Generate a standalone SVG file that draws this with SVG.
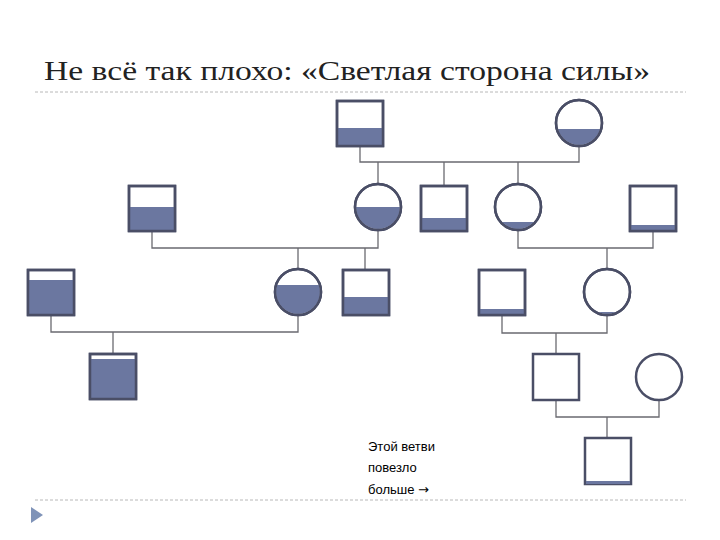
<svg xmlns="http://www.w3.org/2000/svg" width="720" height="540" viewBox="0 0 720 540">
<defs><style>
.n{fill:#fff;stroke:#4a4e66;stroke-width:2.5}
.f{fill:#6b77a0}
.c line,.c polyline{stroke:#6a6a70;stroke-width:1.3;fill:none}
.dash{stroke:#b8b8b8;stroke-width:1;stroke-dasharray:3 2}
.t{font-family:"Liberation Sans",sans-serif;font-size:13px;fill:#000}
</style>
<clipPath id="cB"><circle cx="579" cy="123" r="22"/></clipPath>
<clipPath id="cC"><circle cx="378" cy="207" r="22"/></clipPath>
<clipPath id="cE"><circle cx="518" cy="207" r="22"/></clipPath>
<clipPath id="cH"><circle cx="298" cy="292" r="22"/></clipPath>
<clipPath id="cK"><circle cx="607" cy="292" r="22"/></clipPath>
</defs>
<rect width="720" height="540" fill="#fff"/>
<text x="44" y="80" font-family="Liberation Serif,serif" font-size="28" fill="#222" textLength="606" lengthAdjust="spacingAndGlyphs">Не всё так плохо: «Светлая сторона силы»</text>
<line class="dash" x1="35" y1="92" x2="686" y2="92"/>
<line class="dash" x1="35" y1="500" x2="686" y2="500"/>
<polygon points="31,507 43,515 31,523" fill="#7f93b8"/>
<g class="c">
<polyline points="360,146 360,162 579,162 579,146"/>
<line x1="378" y1="162" x2="378" y2="185"/>
<line x1="444" y1="162" x2="444" y2="186"/>
<line x1="518" y1="162" x2="518" y2="185"/>
<polyline points="152,231 152,248 378,248 378,229"/>
<line x1="298" y1="248" x2="298" y2="270"/>
<line x1="365" y1="248" x2="365" y2="270"/>
<polyline points="518,229 518,248 653,248 653,231"/>
<line x1="607" y1="248" x2="607" y2="270"/>
<polyline points="51,315 51,332 298,332 298,314"/>
<line x1="113" y1="332" x2="113" y2="354"/>
<polyline points="502,315 502,333 607,333 607,314"/>
<line x1="556" y1="333" x2="556" y2="354"/>
<polyline points="556,400 556,417 659,417 659,400"/>
<line x1="607" y1="417" x2="607" y2="438"/>
</g>
<g id="A"><rect class="n" x="337" y="101" width="46" height="45"/><rect class="f" x="338" y="128" width="44" height="17"/><rect x="337" y="101" width="46" height="45" fill="none" stroke="#4a4e66" stroke-width="2.5"/></g>
<g id="B"><circle class="n" cx="579" cy="123" r="23"/><rect class="f" x="550" y="129" width="60" height="30" clip-path="url(#cB)"/><circle cx="579" cy="123" r="23" fill="none" stroke="#4a4e66" stroke-width="2.5"/></g>
<g id="F"><rect class="n" x="129" y="186" width="46" height="45"/><rect class="f" x="130" y="207" width="44" height="23"/><rect x="129" y="186" width="46" height="45" fill="none" stroke="#4a4e66" stroke-width="2.5"/></g>
<g id="C"><circle class="n" cx="378" cy="207" r="23"/><rect class="f" x="350" y="207" width="60" height="30" clip-path="url(#cC)"/><circle cx="378" cy="207" r="23" fill="none" stroke="#4a4e66" stroke-width="2.5"/></g>
<g id="D"><rect class="n" x="421" y="186" width="46" height="45"/><rect class="f" x="422" y="218" width="44" height="12"/><rect x="421" y="186" width="46" height="45" fill="none" stroke="#4a4e66" stroke-width="2.5"/></g>
<g id="E"><circle class="n" cx="518" cy="207" r="23"/><rect class="f" x="490" y="222" width="60" height="20" clip-path="url(#cE)"/><circle cx="518" cy="207" r="23" fill="none" stroke="#4a4e66" stroke-width="2.5"/></g>
<g id="G"><rect class="n" x="630" y="186" width="46" height="45"/><rect class="f" x="631" y="225" width="44" height="5"/><rect x="630" y="186" width="46" height="45" fill="none" stroke="#4a4e66" stroke-width="2.5"/></g>
<g id="P"><rect class="n" x="28" y="270" width="46" height="45"/><rect class="f" x="29" y="280" width="44" height="34"/><rect x="28" y="270" width="46" height="45" fill="none" stroke="#4a4e66" stroke-width="2.5"/></g>
<g id="H"><circle class="n" cx="298" cy="292" r="23"/><rect class="f" x="270" y="285" width="60" height="40" clip-path="url(#cH)"/><circle cx="298" cy="292" r="23" fill="none" stroke="#4a4e66" stroke-width="2.5"/></g>
<g id="I"><rect class="n" x="343" y="270" width="46" height="45"/><rect class="f" x="344" y="297" width="44" height="17"/><rect x="343" y="270" width="46" height="45" fill="none" stroke="#4a4e66" stroke-width="2.5"/></g>
<g id="J"><rect class="n" x="479" y="270" width="46" height="45"/><rect class="f" x="480" y="309" width="44" height="5"/><rect x="479" y="270" width="46" height="45" fill="none" stroke="#4a4e66" stroke-width="2.5"/></g>
<g id="K"><circle class="n" cx="607" cy="292" r="23"/><rect class="f" x="580" y="312" width="60" height="10" clip-path="url(#cK)"/><circle cx="607" cy="292" r="23" fill="none" stroke="#4a4e66" stroke-width="2.5"/></g>
<g id="Q"><rect class="n" x="90" y="354" width="46" height="45"/><rect class="f" x="91" y="359" width="44" height="39"/><rect x="90" y="354" width="46" height="45" fill="none" stroke="#4a4e66" stroke-width="2.5"/></g>
<g id="L"><rect class="n" x="533" y="354" width="46" height="46"/></g>
<g id="M"><circle class="n" cx="659" cy="377" r="23"/></g>
<g id="N"><rect class="n" x="585" y="438" width="46" height="46"/><rect class="f" x="586" y="481" width="44" height="3"/></g>
<g id="note"><text class="t" x="368" y="451">Этой ветви</text><text class="t" x="368" y="472">повезло</text><text class="t" x="368" y="494">больше <tspan font-family="DejaVu Sans,sans-serif">→</tspan></text></g>
</svg>
